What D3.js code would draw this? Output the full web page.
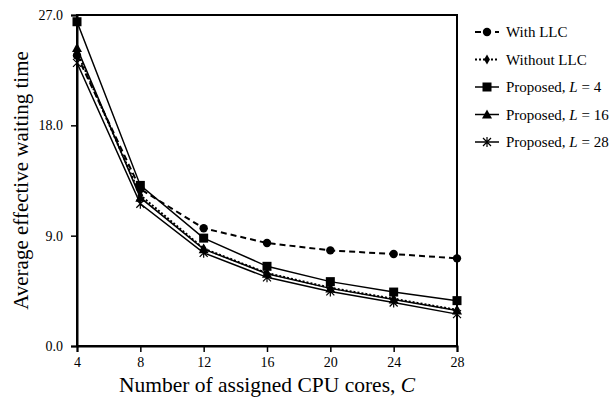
<!DOCTYPE html>
<html>
<head>
<meta charset="utf-8">
<script src="https://cdn.jsdelivr.net/npm/d3@7"></script>
<style>
body { margin: 0; background: #fff; }
svg text { font-family: "Liberation Serif", "Times New Roman", serif; fill: #000; }
</style>
</head>
<body>
<svg id="chart" width="613" height="402"></svg>
<script>
(function(){
'use strict';

var cores = [4, 8, 12, 16, 20, 24, 28];
var withLLC    = [23.7, 12.8, 9.6, 8.4, 7.8, 7.5, 7.15];
var withoutLLC = [24.0, 12.3, 7.95, 5.95, 4.75, 3.85, 2.95];
var propL4     = [26.45, 13.1, 8.8, 6.5, 5.25, 4.4, 3.7];
var propL16    = [24.3, 12.1, 7.9, 5.9, 4.7, 3.8, 2.9];
var propL28    = [23.1, 11.6, 7.6, 5.6, 4.45, 3.55, 2.6];
var yTicks = [0, 9, 18, 27];

var series = [
    {name: 'With LLC', values: withLLC, marker: 'circle', dash: '6,4', width: 2},
    {name: 'Without LLC', values: withoutLLC, marker: 'diamond', dash: '2,2', width: 2},
    {name: 'Proposed, ', L: '4', values: propL4, marker: 'square', dash: null, width: 1.5},
    {name: 'Proposed, ', L: '16', values: propL16, marker: 'triangle', dash: null, width: 1.5},
    {name: 'Proposed, ', L: '28', values: propL28, marker: 'star', dash: null, width: 1.5}
];

var svg = d3.select('#chart');
var margin = {left: 77, right: 156, top: 15, bottom: 56};
var width = 613 - margin.left - margin.right,
    height = 402 - margin.top - margin.bottom;

var x = d3.scaleLinear().domain([4, 28]).range([0, width]);
var y = d3.scaleLinear().domain([0, 27]).range([height, 0]);

var g = svg.append('g').attr('transform', 'translate(' + margin.left + ',' + margin.top + ')');

// frame
g.append('rect').attr('width', width).attr('height', height)
    .attr('fill', 'none').attr('stroke', '#000').attr('stroke-width', 2);

var xAxis = g.append('g').attr('transform', 'translate(0,' + height + ')')
    .call(d3.axisBottom(x).tickValues(cores).tickSize(6).tickPadding(5));
var yAxis = g.append('g')
    .call(d3.axisLeft(y).tickValues(yTicks).tickFormat(d3.format('.1f')).tickSize(6).tickPadding(8));

[xAxis, yAxis].forEach(function(ax) {
    ax.select('.domain').attr('stroke-width', 2);
    ax.selectAll('.tick line').attr('stroke-width', 1.5);
    ax.selectAll('.tick text').style('font-family', '"Liberation Serif", serif').attr('font-size', 14);
});

// axis titles
g.append('text')
    .attr('x', width / 2).attr('y', height + 46)
    .attr('text-anchor', 'middle').attr('font-size', 21.5)
    .text('Number of assigned CPU cores, ')
    .append('tspan').attr('font-style', 'italic').text('C');

g.append('text')
    .attr('transform', 'translate(' + (-49) + ',' + (height / 2) + ') rotate(-90)')
    .attr('text-anchor', 'middle').attr('font-size', 21)
    .text('Average effective waiting time');

function drawMarker(sel, type) {
    if (type === 'circle') {
        sel.append('circle').attr('r', 4.2).attr('fill', '#000');
    } else if (type === 'diamond') {
        sel.append('path').attr('d', d3.symbol(d3.symbolDiamond, 30)()).attr('fill', '#000');
    } else if (type === 'square') {
        sel.append('rect').attr('x', -4.5).attr('y', -4.5).attr('width', 9).attr('height', 9).attr('fill', '#000');
    } else if (type === 'triangle') {
        sel.append('path').attr('d', 'M0,-5L5,4L-5,4Z').attr('fill', '#000');
    } else if (type === 'star') {
        sel.append('path').attr('d', 'M-4,-4L4,4M-4,4L4,-4M0,-5L0,5')
            .attr('stroke', '#000').attr('stroke-width', 1.2).attr('fill', 'none');
    }
}

var line = d3.line()
    .x(function(d, i) { return x(cores[i]); })
    .y(function(d) { return y(d); });

series.forEach(function(s) {
    g.append('path')
        .attr('d', line(s.values))
        .attr('fill', 'none')
        .attr('stroke', '#000')
        .attr('stroke-width', s.width)
        .attr('stroke-dasharray', s.dash);
    s.values.forEach(function(v, i) {
        var m = g.append('g').attr('transform', 'translate(' + x(cores[i]) + ',' + y(v) + ')');
        drawMarker(m, s.marker);
    });
});

// legend
var legend = svg.append('g').attr('transform', 'translate(475,32)');
series.forEach(function(s, i) {
    var row = legend.append('g').attr('transform', 'translate(0,' + (i * 27.5) + ')');
    row.append('line').attr('x1', 0).attr('x2', 24).attr('y1', 0).attr('y2', 0)
        .attr('stroke', '#000').attr('stroke-width', s.width).attr('stroke-dasharray', s.dash);
    drawMarker(row.append('g').attr('transform', 'translate(12,0)'), s.marker);
    var t = row.append('text').attr('x', 31).attr('y', 5).attr('font-size', 15).text(s.name);
    if (s.L) {
        t.append('tspan').attr('font-style', 'italic').text('L');
        t.append('tspan').text(' = ' + s.L);
    }
});

})();
</script>
</body>
</html>
